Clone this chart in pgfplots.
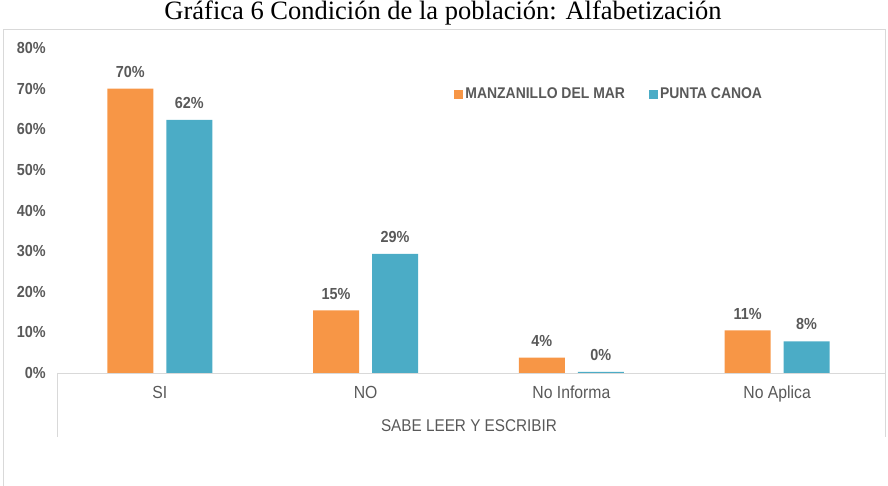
\documentclass[border=0pt]{standalone}
\usepackage{fontspec}
\setmainfont{Liberation Sans}
\newfontfamily\titlefont{Liberation Serif}
\newfontfamily\narrow[FakeStretch=0.9]{Liberation Sans}
\usepackage{pgfplots}
\pgfplotsset{compat=1.18}
\definecolor{morange}{HTML}{F79646}
\definecolor{mblue}{HTML}{4BACC6}
\definecolor{tgray}{HTML}{595959}
\definecolor{lgray}{HTML}{D9D9D9}
\begin{document}
\begin{tikzpicture}[x=1pt,y=1pt]
\useasboundingbox (0,0) rectangle (888,486);
\draw[lgray] (3,0) -- (3,457) -- (885,457) -- (885,49);
\draw[lgray] (57,113) -- (885,113);
\draw[lgray] (57,113) -- (57,49);
\node[font=\titlefont\fontsize{26.5}{30}\selectfont, anchor=center] at (443,473) {Gráfica 6 Condición de la población: Alfabetización};
\begin{axis}[
  at={(57pt,113pt)}, anchor=south west,
  width=823pt, height=325pt, scale only axis,
  ymin=0, ymax=80, xmin=-0.5, xmax=3.5,
  ybar=13pt, bar width=46pt,
  axis line style={draw=none},
  major tick length=0pt,
  /pgf/number format/assume math mode=true,
  ytick={0,10,...,80},
  yticklabel={\pgfmathprintnumber{\tick}\%},
  xtick=data,
  xticklabels={SI,NO,No Informa,No Aplica},
  y tick label style={font=\narrow\bfseries\fontsize{16}{18}\selectfont, text=tgray, inner sep=0pt, anchor=east, xshift=-11pt},
  x tick label style={font=\narrow\fontsize{17.5}{20}\selectfont, text=tgray, inner sep=0pt, anchor=north, yshift=-13pt},
  nodes near coords={\pgfmathprintnumber[fixed,precision=0,assume math mode=true]{\pgfplotspointmeta}\%},
  point meta=y,
  every node near coord/.append style={font=\narrow\bfseries\fontsize{16}{18}\selectfont, text=tgray, inner sep=0pt, anchor=south, yshift=11pt},
  legend style={at={(0.479,0.858)}, anchor=west, draw=none, fill=none, legend columns=2,
    font=\narrow\bfseries\fontsize{15.5}{18}\selectfont, text=tgray,
    /tikz/every even column/.append style={column sep=22pt}},
  legend image code/.code={\fill[#1] (0pt,-4.5pt) rectangle (9pt,4.5pt);},
  clip=false,
]
\addplot[fill=morange, draw=none] coordinates {(0,70) (1,15.4) (2,3.8) (3,10.5)};
\addplot[fill=mblue, draw=none] coordinates {(0,62.3) (1,29.3) (2,0.3) (3,7.8)};
\legend{MANZANILLO DEL MAR, PUNTA CANOA}
\end{axis}
\node[font=\narrow\fontsize{17}{20}\selectfont, text=tgray] at (469,60) {SABE LEER Y ESCRIBIR};
\end{tikzpicture}
\end{document}
